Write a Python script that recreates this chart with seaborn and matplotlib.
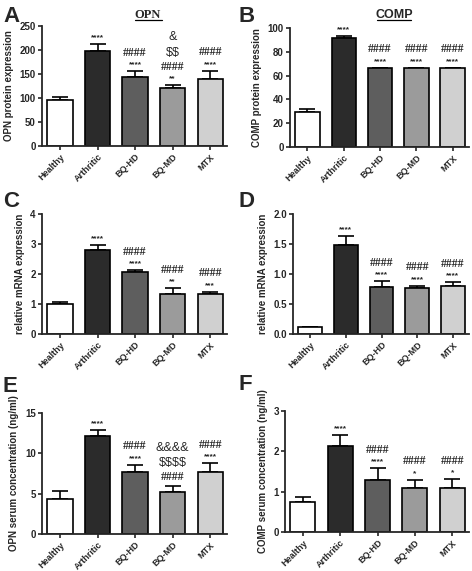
import numpy as np
import seaborn as sns
import matplotlib
import matplotlib.pyplot as plt
from matplotlib.lines import Line2D

matplotlib.use("Agg")

groups = ["Healthy", "Arthritic", "BQ-HD", "BQ-MD", "MTX"]
colors = ["#ffffff", "#2b2b2b", "#5e5e5e", "#9b9b9b", "#d0d0d0"]

# panel A: OPN protein
opn_prot = [95, 198, 144, 120, 140]
opn_prot_err = [8, 15, 12, 7, 17]
# panel B: COMP protein
comp_prot = [29, 92, 66, 66, 66]
comp_prot_err = [3, 1, 0.6, 0.6, 0.4]
# panel C: OPN mRNA
opn_mrna = [1.0, 2.8, 2.07, 1.35, 1.35]
opn_mrna_err = [0.08, 0.17, 0.05, 0.17, 0.05]
# panel D: COMP mRNA
comp_mrna = [0.11, 1.48, 0.78, 0.76, 0.80]
comp_mrna_err = [0.01, 0.15, 0.10, 0.04, 0.06]
# panel E: OPN serum
opn_serum = [4.4, 12.2, 7.7, 5.2, 7.7]
opn_serum_err = [0.9, 0.7, 0.9, 0.8, 1.1]
# panel F: COMP serum
comp_serum = [0.75, 2.13, 1.28, 1.10, 1.08]
comp_serum_err = [0.12, 0.27, 0.30, 0.20, 0.23]

# significance marks, listed bottom -> top
marks_A = [[], ["****"], ["****", "####"], ["**", "####", "$$", "&"], ["****", "####"]]
marks_B = [[], ["****"], ["****", "####"], ["****", "####"], ["****", "####"]]
marks_C = [[], ["****"], ["****", "####"], ["**", "####"], ["***", "####"]]
marks_D = [[], ["****"], ["****", "####"], ["****", "####"], ["****", "####"]]
marks_E = [[], ["****"], ["****", "####"], ["####", "$$$$", "&&&&"], ["****", "####"]]
marks_F = [[], ["****"], ["****", "####"], ["*", "####"], ["*", "####"]]

sns.set_style("ticks")
plt.rcParams["font.family"] = ["Liberation Sans", "DejaVu Sans"]

W, H = 472, 571
fig = plt.figure(figsize=(W / 100, H / 100), dpi=100)


def box(l, r, t, b):
    return [l / W, 1 - b / H, (r - l) / W, (b - t) / H]


panels = [
    ("A", box(42, 227, 26, 146), opn_prot, opn_prot_err, marks_A, 250, 50, "OPN protein expression", "{:.0f}", (3, 22)),
    ("B", box(290, 469, 28, 147), comp_prot, comp_prot_err, marks_B, 100, 20, "COMP protein expression", "{:.0f}", (238, 22)),
    ("C", box(42, 227, 214, 334), opn_mrna, opn_mrna_err, marks_C, 4, 1, "relative mRNA expression", "{:.0f}", (3, 207)),
    ("D", box(293, 469, 214, 334), comp_mrna, comp_mrna_err, marks_D, 2.0, 0.5, "relative mRNA expression", "{:.1f}", (238, 207)),
    ("E", box(42, 227, 413, 534), opn_serum, opn_serum_err, marks_E, 15, 5, "OPN serum concentration (ng/ml)", "{:.0f}", (3, 392)),
    ("F", box(285, 469, 411, 532), comp_serum, comp_serum_err, marks_F, 3, 1, "COMP serum concentration (ng/ml)", "{:.0f}", (238, 390)),
]

for letter, pos, vals, errs, marks, ymax, step, ylabel, fmt, lpos in panels:
    ax = fig.add_axes(pos)
    sns.barplot(x=groups, y=vals, hue=groups, palette=colors, edgecolor="black",
                linewidth=1.2, width=0.67, ax=ax, legend=False, zorder=2)
    ax.errorbar(range(5), vals, yerr=[np.zeros(5), errs], fmt="none", ecolor="black",
                elinewidth=1.2, capsize=6, capthick=1.2, zorder=1)
    ax.set_xlim(-0.48, 4.45)
    ax.set_ylim(0, ymax)
    ticks = np.arange(0, ymax + step / 2, step)
    ax.set_yticks(ticks)
    ax.set_yticklabels([fmt.format(t) for t in ticks], fontsize=7, fontweight="bold")
    ax.set_xticks(range(5))
    ax.set_xticklabels(groups, rotation=45, ha="right", rotation_mode="anchor",
                       fontsize=6.5, fontweight="bold")
    ax.set_ylabel(ylabel, fontsize=7, fontweight="bold", labelpad=4)
    ax.set_xlabel("")
    for s in ["top", "right"]:
        ax.spines[s].set_visible(False)
    for s in ["left", "bottom"]:
        ax.spines[s].set_linewidth(1.3)
    ax.tick_params(width=1.2, length=3, pad=1.5)

    for i, stack in enumerate(marks):
        top = vals[i] + errs[i]
        off = 2
        for m in stack:
            if m.startswith("*"):
                kw = dict(fontsize=6, family=["Liberation Sans"], fontweight="bold")
                h = 7
            elif m.startswith("#"):
                kw = dict(fontsize=8.5, family=["Liberation Serif"], fontweight="bold")
                h = 10
            else:
                kw = dict(fontsize=9, family=["Liberation Sans"])
                h = 11
            ax.annotate(m, (i, top), xytext=(0, off), textcoords="offset points",
                        ha="center", va="bottom", annotation_clip=False,
                        parse_math=False, **kw)
            off += h

    fig.text(lpos[0] / W, 1 - lpos[1] / H, letter, fontsize=16, fontweight="bold",
             ha="left", va="baseline")

# underlined panel titles
fig.text(148 / W, 1 - 18 / H, "OPN", fontsize=9, fontweight="bold",
         family=["Liberation Serif"], ha="center", va="baseline")
fig.add_artist(Line2D([135 / W, 162 / W], [1 - 20 / H] * 2, color="black", lw=0.9))
fig.text(394 / W, 1 - 18 / H, "COMP", fontsize=9, fontweight="bold",
         ha="center", va="baseline")
fig.add_artist(Line2D([377 / W, 411 / W], [1 - 20 / H] * 2, color="black", lw=0.9))

fig.savefig("out.png", dpi=100)
